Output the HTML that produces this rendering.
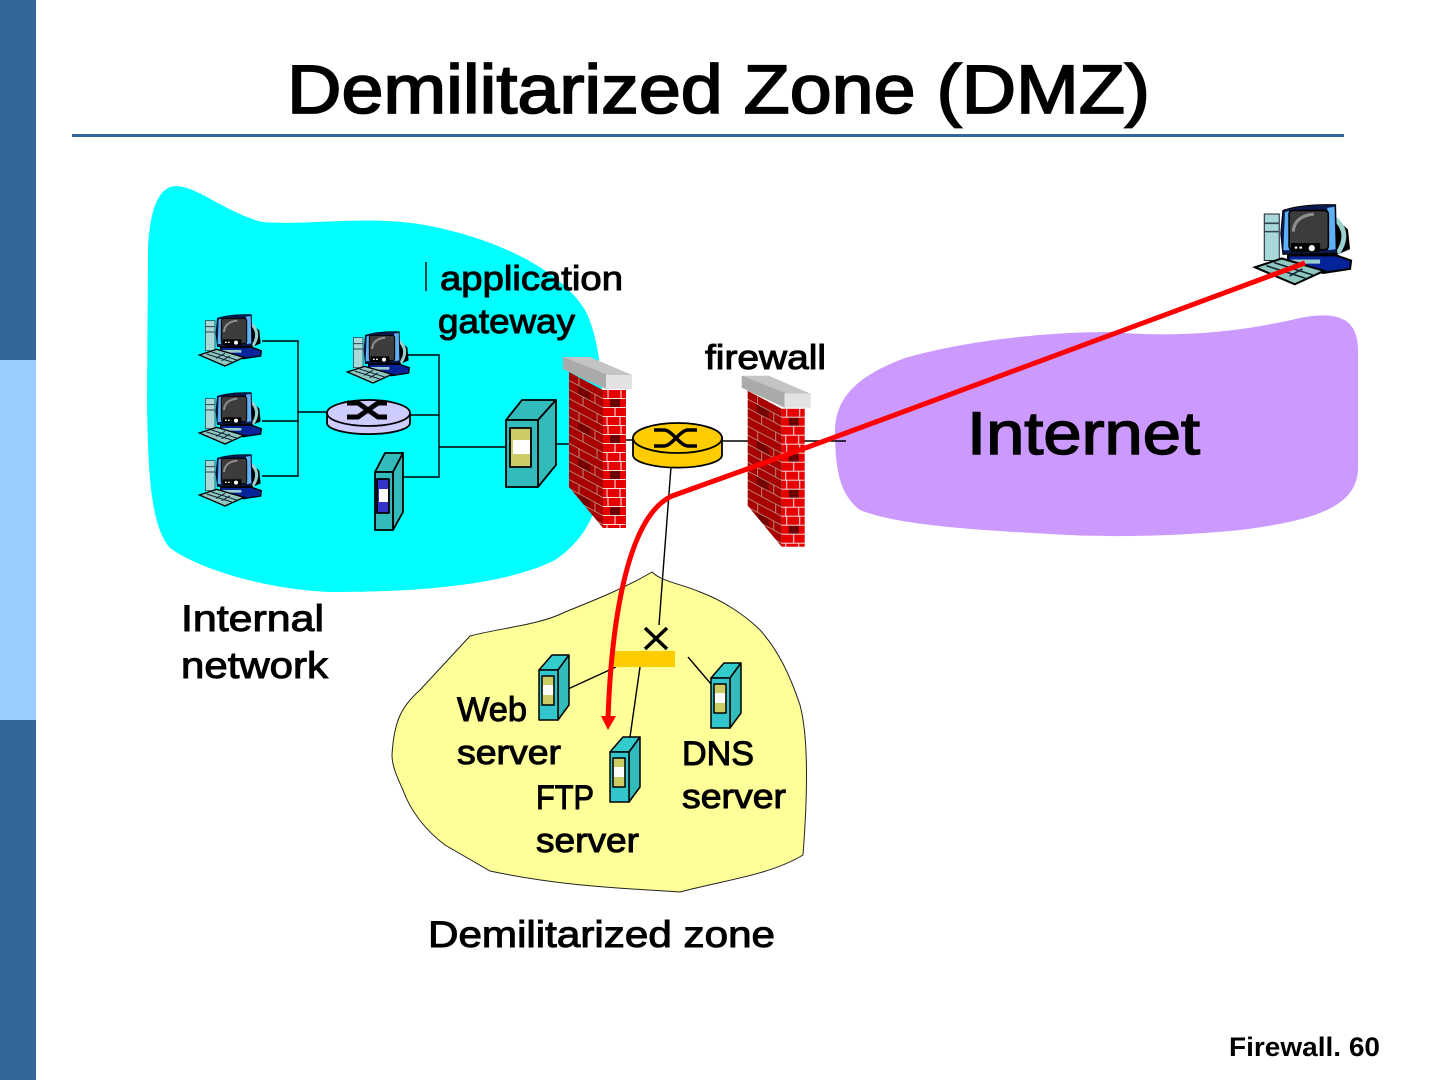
<!DOCTYPE html>
<html><head><meta charset="utf-8"><style>
html,body{margin:0;padding:0;background:#fff}
svg{display:block}
text{font-family:"Liberation Sans",sans-serif;fill:#000;stroke:#000;stroke-width:1px}
</style></head><body>
<svg width="1440" height="1080" viewBox="0 0 1440 1080" xmlns="http://www.w3.org/2000/svg">
<defs>
<pattern id="fb" width="23" height="36" patternUnits="userSpaceOnUse" x="603" y="390">
<rect width="23" height="36" fill="#e60000"/>
<rect x="7" y="9" width="10" height="8" fill="#6a0000"/>
<path d="M0 8.500H23M0 17.500H23M0 26.500H23M0 35.500H23M5 0V8M18 0V8M12 18V26M4 27V35M17 27V35" stroke="#f6d8d8" stroke-width="1.100" fill="none"/>
</pattern>
<pattern id="sb" width="34" height="36" patternUnits="userSpaceOnUse" patternTransform="translate(569 372) skewY(28)">
<rect width="34" height="36" fill="#a80000"/>
<rect x="9" y="9" width="12" height="8" fill="#750000"/>
<path d="M0 8.500H34M0 17.500H34M0 26.500H34M0 35.500H34M10 0V8M26 9V17M14 18V26M28 27V35" stroke="#b98878" stroke-width="1" fill="none"/>
</pattern>
<g id="wall">
<polygon points="569,372 603,390 603,528 569,487" fill="url(#sb)"/>
<rect x="603" y="390" width="23" height="138" fill="url(#fb)"/>
<polygon points="563,357 590,357 632,375 605,375" fill="#c4c4c4"/>
<polygon points="563,357 606,374 606,389 563,369" fill="#aaa"/>
<rect x="606" y="375" width="26" height="14" fill="#e2e2e2"/>
</g>
<g id="pc">
<polygon points="76,62 105,62 105,152 76,152" fill="#a8d8d8" stroke="#223" stroke-width="2"/>
<path d="M76 80H105M76 96H105" stroke="#345" stroke-width="3"/>
<path d="M190 48 L238 92 L242 130 L205 146 L130 146Z" fill="#000"/>
<path d="M214 72 Q244 100 218 138" fill="none" stroke="#9ad0d0" stroke-width="9"/>
<path d="M108 100 L112 55 Q150 42 214 44 L216 138 L112 140Z" fill="#0a1a50" stroke="#000" stroke-width="2"/>
<path d="M113 132 L116 58 L126 56 L124 132Z" fill="#5fb0f5"/>
<path d="M198 50 L212 48 L214 130 L200 132Z" fill="#5fb0f5"/>
<rect x="124" y="55" width="76" height="76" rx="7" fill="#3c3c3c" stroke="#000" stroke-width="3"/>
<path d="M132 96 Q134 66 172 62" fill="none" stroke="#8e8e8e" stroke-width="6"/>
<rect x="128" y="118" width="56" height="18" fill="#000"/>
<circle cx="168" cy="128" r="6" fill="#fff"/>
<path d="M135 127h5M144 127h5" stroke="#fff" stroke-width="4"/>
<polygon points="122,142 215,142 244,152 242,168 190,176 122,155" fill="#06249a" stroke="#000" stroke-width="4"/>
<rect x="128" y="150" width="56" height="8" fill="#9cc"/>
<polygon points="58,165 110,148 192,172 135,198" fill="#8fc8c0" stroke="#000" stroke-width="4"/>
<path d="M80 162L155 186M95 156L170 180M108 175L135 160M125 182L150 168" stroke="#123" stroke-width="3"/>
</g>
<g id="srv" stroke="#000" stroke-width="1.500" stroke-linejoin="round">
<polygon points="0,15 13,0 30,0 19,15" fill="#33cccc"/>
<polygon points="19,15 30,0 30,50 19,65" fill="#33bbbb"/>
<rect x="0" y="15" width="19" height="50" fill="#33c5cc"/>
<rect x="3" y="21" width="12" height="29" fill="#cccc66"/>
<rect x="4" y="30" width="10" height="10" fill="#fff" stroke="none"/>
</g>
</defs>

<rect x="0" y="0" width="36" height="360" fill="#336699"/>
<rect x="0" y="360" width="36" height="360" fill="#99ccff"/>
<rect x="0" y="720" width="36" height="360" fill="#336699"/>
<text x="287" y="113" font-size="69" textLength="863" lengthAdjust="spacingAndGlyphs" style="stroke-width:1.800px">Demilitarized Zone (DMZ)</text>
<rect x="72" y="134" width="1272" height="3" fill="#336699"/>

<path d="M148 250C150 205 160 186 177 186C200 188 225 212 262 222C310 226 370 214 430 226C500 240 560 270 585 310C603 345 604 400 603 470C600 510 585 540 555 560C500 588 400 592 330 592C270 590 200 570 170 548C150 525 148 470 147 400Z" fill="#00ffff"/>
<path d="M835 430C836 395 860 375 905 358C960 342 1040 332 1110 332C1180 338 1240 332 1300 318C1340 310 1358 320 1358 350L1358 470C1356 505 1320 520 1240 530C1180 536 1110 538 1050 534C980 530 900 526 860 510C840 495 835 470 835 430Z" fill="#cc99ff"/>
<path d="M392 755C394 720 402 706 420 690L470 636C500 628 540 625 565 612C595 600 625 588 652 572C662 582 682 584 700 592C722 600 745 615 760 630C778 650 790 675 800 705C808 735 808 790 803 855C770 875 725 880 680 892C620 888 560 886 490 871L445 845C425 830 410 810 403 790C396 775 392 765 392 755Z" fill="#ffff99" stroke="#222" stroke-width="1"/>

<g fill="none" stroke="#000" stroke-width="1.400">
<path d="M262 341H298V476H262M262 421H298M298 412H327M410 415H439M408 355H439V477H403M439 447H506"/>
<path d="M538 444H569"/>
<path d="M626 440H633M722 441H846"/>
<path d="M671 467L659 625M568 689L616 667M640 667L630 737M688 657L711 684"/>
<path d="M426 262V291"/>
</g>

<use href="#pc" transform="translate(180 300) scale(.3333)"/>
<use href="#pc" transform="translate(180 378) scale(.3333)"/>
<use href="#pc" transform="translate(180 440) scale(.3333)"/>
<use href="#pc" transform="translate(328 317) scale(.3333)"/>
<use href="#pc" transform="translate(1225 182) scale(.5167)"/>

<g stroke="#000" stroke-width="1.800">
<path d="M327 413V423A41 11 0 0 0 410 423V413Z" fill="#ccccff"/>
<ellipse cx="368.500" cy="413" rx="41.500" ry="13" fill="#ccccff"/>
</g>
<path d="M347 403H358L378 417H387M347 417H358L378 403H387" fill="none" stroke="#000" stroke-width="5"/>

<g stroke="#000" stroke-width="1.800" stroke-linejoin="round">
<polygon points="506,420 522,400 556,400 538,420" fill="#33bbbb"/>
<polygon points="538,420 556,400 556,465 538,487" fill="#33bbbb"/>
<rect x="506" y="420" width="32" height="67" fill="#33bbbb"/>
<rect x="510" y="428" width="21" height="39" fill="#cccc66"/>
<rect x="513" y="440" width="17" height="14" fill="#fff" stroke="none"/>
<polygon points="375,472 385,453 403,453 393,472" fill="#33bbbb"/>
<polygon points="393,472 403,453 403,512 393,530" fill="#33bbbb"/>
<rect x="375" y="472" width="18" height="58" fill="#33bbbb"/>
<rect x="377" y="479" width="12" height="34" fill="#3333cc"/>
<rect x="379" y="489" width="9" height="13" fill="#fff" stroke="none"/>
</g>

<use href="#wall"/>
<use href="#wall" transform="translate(178.700 18.700)"/>

<g stroke="#000" stroke-width="1.800">
<path d="M633 438V455A44 12.500 0 0 0 722 455V438Z" fill="#ffcc00"/>
<ellipse cx="677.500" cy="438" rx="44.500" ry="15" fill="#ffcc00"/>
</g>
<path d="M654 430H664C672 430 680 446 688 446H697M654 446H664C672 446 680 430 688 430H697" fill="none" stroke="#000" stroke-width="3.500"/>

<rect x="614" y="651" width="61" height="16" fill="#ffcc00"/>
<path d="M645 628L667 649M667 628L645 649" stroke="#000" stroke-width="3.500" fill="none"/>
<use href="#srv" transform="translate(539 655)"/>
<use href="#srv" transform="translate(711 663)"/>
<use href="#srv" transform="translate(610 737)"/>

<path d="M1305 263L800 450L672 496C630 515 612 610 608 718" fill="none" stroke="#ff0000" stroke-width="5"/>
<polygon points="601,716 616,716 608,730" fill="#ff0000"/>

<text x="440" y="290" font-size="34" textLength="183" lengthAdjust="spacingAndGlyphs">application</text>
<text x="438" y="333" font-size="34" textLength="137" lengthAdjust="spacingAndGlyphs">gateway</text>
<text x="705" y="369" font-size="34" textLength="121" lengthAdjust="spacingAndGlyphs">firewall</text>
<text x="967" y="454" font-size="60" textLength="233" lengthAdjust="spacingAndGlyphs" style="stroke-width:1.500px">Internet</text>
<text x="181" y="631" font-size="37" textLength="143" lengthAdjust="spacingAndGlyphs">Internal</text>
<text x="181" y="678" font-size="37" textLength="147" lengthAdjust="spacingAndGlyphs">network</text>
<text x="457" y="721" font-size="34" textLength="70" lengthAdjust="spacingAndGlyphs">Web</text>
<text x="457" y="764" font-size="34" textLength="104" lengthAdjust="spacingAndGlyphs">server</text>
<text x="536" y="809" font-size="34" textLength="58" lengthAdjust="spacingAndGlyphs">FTP</text>
<text x="536" y="852" font-size="34" textLength="103" lengthAdjust="spacingAndGlyphs">server</text>
<text x="682" y="765" font-size="34" textLength="72" lengthAdjust="spacingAndGlyphs">DNS</text>
<text x="682" y="808" font-size="34" textLength="104" lengthAdjust="spacingAndGlyphs">server</text>
<text x="428" y="947" font-size="37" textLength="347" lengthAdjust="spacingAndGlyphs">Demilitarized zone</text>
<text x="1229" y="1056" font-size="27" font-weight="bold" style="stroke-width:0" textLength="151" lengthAdjust="spacingAndGlyphs">Firewall. 60</text>
</svg>
</body></html>
